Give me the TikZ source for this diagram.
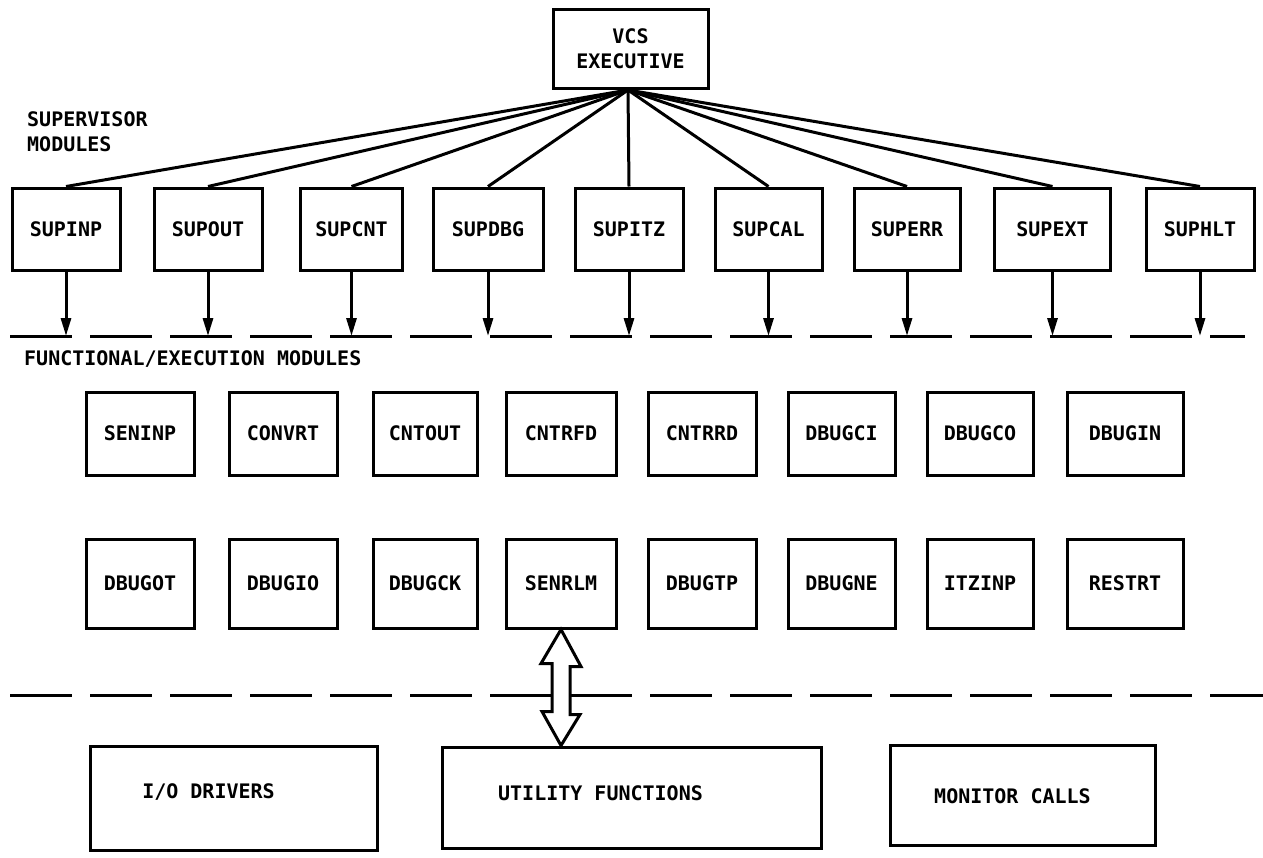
\documentclass[tikz,border=0pt]{standalone}
\usepackage{fontspec}
\setmainfont{DejaVu Sans Mono}
\usetikzlibrary{arrows.meta,calc}
\begin{document}
\begin{tikzpicture}[x=1pt,y=-1pt,
  lbl/.style={font=\bfseries\fontsize{20}{25}\selectfont},
  modbox/.style={draw, line width=3pt, minimum width=108pt, minimum height=82pt, inner sep=0pt, lbl},
  rowa/.style={modbox, minimum height=83pt},
  rowb/.style={modbox, minimum height=89pt},
  bigbox/.style={draw, line width=3pt, inner sep=0pt, lbl},
  link/.style={line width=3pt},
  dn/.style={line width=3pt, -{Triangle[length=18pt,width=10pt]}},
  divider/.style={line width=3pt, dash pattern=on 62pt off 18pt},
  hollow/.style={line width=3pt, fill=white, line join=miter}
]
\useasboundingbox (0,0) rectangle (1263,857);
\fill[white] (0,0) rectangle (1263,857);

% executive
\node[modbox, minimum width=155pt, minimum height=79pt, align=center] (vcs) at (630.5,48.5) {VCS\\EXECUTIVE};
\coordinate (hub) at (628,90);

% section labels
\node[lbl, align=left, anchor=north west, inner sep=0pt] (suplbl) at (27,111) {SUPERVISOR\\MODULES};
\node[lbl, anchor=base west, inner sep=0pt] (funclbl) at (24,365) {FUNCTIONAL/EXECUTION MODULES};

% supervisor modules
\node[modbox] (supinp) at (66,229) {SUPINP};
\node[modbox] (supout) at (208,229) {SUPOUT};
\node[modbox, minimum width=102pt] (supcnt) at (351.5,229) {SUPCNT};
\node[modbox, minimum width=110pt] (supdbg) at (488,229) {SUPDBG};
\node[modbox] (supitz) at (629,229) {SUPITZ};
\node[modbox, minimum width=107pt] (supcal) at (768.5,229) {SUPCAL};
\node[modbox, minimum width=106pt] (superr) at (907,229) {SUPERR};
\node[modbox, minimum width=116pt] (supext) at (1052.5,229) {SUPEXT};
\node[modbox] (suphlt) at (1200,229) {SUPHLT};

\foreach \n in {supinp,supout,supcnt,supdbg,supitz,supcal,superr,supext,suphlt}
  \draw[link] (hub) -- (\n.north);

% level dividers
\coordinate (d1l) at (10,336);
\coordinate (d1r) at (1245,336);
\coordinate (d2l) at (10,695);
\coordinate (d2r) at (1263,695);
\draw[divider] (d1l) -- (d1r);
\draw[divider] (d2l) -- (d2r);

\foreach \n in {supinp,supout,supcnt,supdbg,supitz,supcal,superr,supext,suphlt}
  \draw[dn] (\n.south) -- (\n.south |- d1l);

% functional / execution modules
\node[rowa] (seninp) at (140,433.5) {SENINP};
\node[rowa] (convrt) at (283,433.5) {CONVRT};
\node[rowa, minimum width=104pt] (cntout) at (425,433.5) {CNTOUT};
\node[rowa, minimum width=110pt] (cntrfd) at (561,433.5) {CNTRFD};
\node[rowa] (cntrrd) at (702,433.5) {CNTRRD};
\node[rowa, minimum width=107pt] (dbugci) at (841.5,433.5) {DBUGCI};
\node[rowa, minimum width=106pt] (dbugco) at (980,433.5) {DBUGCO};
\node[rowa, minimum width=116pt] (dbugin) at (1125,433.5) {DBUGIN};

\node[rowb] (dbugot) at (140,583.5) {DBUGOT};
\node[rowb] (dbugio) at (283,583.5) {DBUGIO};
\node[rowb, minimum width=104pt] (dbugck) at (425,583.5) {DBUGCK};
\node[rowb, minimum width=110pt] (senrlm) at (561,583.5) {SENRLM};
\node[rowb] (dbugtp) at (702,583.5) {DBUGTP};
\node[rowb, minimum width=107pt] (dbugne) at (841.5,583.5) {DBUGNE};
\node[rowb, minimum width=106pt] (itzinp) at (980,583.5) {ITZINP};
\node[rowb, minimum width=116pt] (restrt) at (1125,583.5) {RESTRT};

% system services
\node[bigbox, minimum width=287pt, minimum height=104pt,
      label={[lbl, shift={(-25,-6)}]center:I/O DRIVERS}] (io) at (233.5,798) {};
\node[bigbox, minimum width=379pt, minimum height=101pt,
      label={[lbl, shift={(-31,-4)}]center:UTILITY FUNCTIONS}] (util) at (631.5,797.5) {};
\node[bigbox, minimum width=265pt, minimum height=100pt,
      label={[lbl, shift={(-10,1)}]center:MONITOR CALLS}] (mon) at (1022.5,795) {};

% two-way interface arrow
\draw[hollow] (senrlm.south) -- ++(20,37) -- ++(-11,0) -- ++(0,48) -- ++(10,0)
  -- (senrlm.south |- util.north) -- ++(-19,-34) -- ++(10,0) -- ++(0,-48)
  -- ++(-11,0) -- cycle;
\end{tikzpicture}
\end{document}
